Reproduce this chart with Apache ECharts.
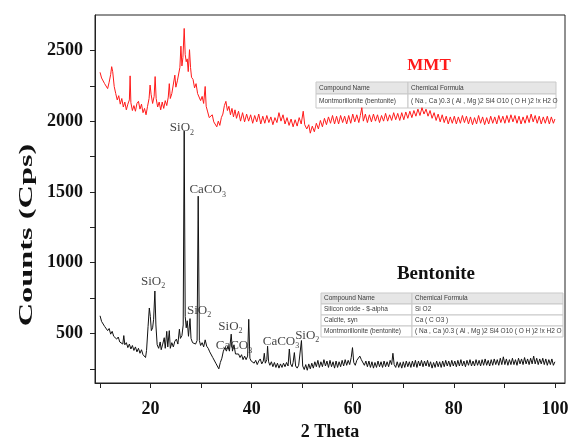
<!DOCTYPE html>
<html>
<head>
<meta charset="utf-8">
<script src="https://cdn.jsdelivr.net/npm/echarts@6/dist/echarts.min.js"></script>
<style>
  html, body { margin: 0; padding: 0; background: #fff; }
  #chart { width: 570px; height: 437px; }
</style>
</head>
<body>
<div id="chart"></div>
<script>
// MMT pattern, [2 theta, counts]
const mmtData = [
  [10,2345],[10.3,2305],[10.6,2295],[10.9,2265],[11.2,2255],[11.5,2230],[11.8,2275],[12.1,2330],[12.3,2385],[12.5,2350],
  [12.8,2245],[13.1,2195],[13.4,2150],[13.7,2180],[14,2120],[14.3,2160],[14.6,2100],[14.9,2135],[15.2,2080],[15.5,2120],
  [15.8,2150],[15.95,2320],[16.1,2130],[16.4,2075],[16.7,2110],[17,2070],[17.3,2125],[17.6,2140],[17.9,2085],[18.2,2120],
  [18.5,2060],[18.8,2090],[19.1,2045],[19.4,2105],[19.7,2160],[19.9,2255],[20.1,2190],[20.4,2125],[20.7,2175],[20.9,2315],
  [21.1,2160],[21.4,2100],[21.7,2135],[22,2080],[22.3,2135],[22.6,2090],[22.9,2145],[23.2,2110],[23.5,2170],[23.7,2265],
  [23.9,2160],[24.2,2195],[24.5,2205],[24.8,2325],[25,2240],[25.3,2285],[25.6,2295],[25.8,2380],[26,2530],[26.2,2390],
  [26.4,2450],[26.65,2655],[26.85,2470],[27.05,2420],[27.25,2440],[27.45,2350],[27.7,2505],[27.9,2380],[28.1,2310],[28.4,2295],
  [28.7,2235],[29,2265],[29.3,2195],[29.6,2185],[29.9,2145],[30.2,2175],[30.5,2125],[30.8,2245],[31,2105],[31.3,2065],
  [31.6,2025],[31.9,2015],[32.2,2045],[32.5,1995],[32.8,1990],[33.1,1960],[33.4,2000],[33.7,1970],[34,2025],[34.3,2050],
  [34.6,2110],[34.9,2140],[35.2,2075],[35.5,2105],[35.8,2045],[36.1,2090],[36.4,2030],[36.7,2080],[37,2020],[37.4,2070],
  [37.8,2000],[38.2,2060],[38.6,1995],[39,2050],[39.4,2000],[39.8,2045],[40.2,1985],[40.6,2040],[41,1995],[41.4,2050],
  [41.8,1980],[42.2,2035],[42.6,1985],[43,2040],[43.4,1990],[43.8,2030],[44.2,1975],[44.6,2025],[45,1990],[45.4,2060],
  [45.8,2000],[46.2,2045],[46.6,1980],[47,2025],[47.4,1970],[47.8,2015],[48.2,1960],[48.6,2010],[49,1965],[49.4,2025],
  [49.8,1980],[50.2,2070],[50.5,1975],[50.9,1945],[51.3,1975],[51.6,1915],[52,1965],[52.4,1925],[52.8,1985],[53.2,1945],
  [53.6,2005],[54,1960],[54.4,2020],[54.8,1975],[55.2,2030],[55.6,1985],[56,2040],[56.4,1980],[56.8,2035],[57.2,1980],
  [57.6,2040],[58,1990],[58.4,2035],[58.8,1980],[59.2,2040],[59.6,1985],[60,2050],[60.4,1995],[60.8,2045],[61.2,1990],
  [61.5,2040],[61.8,2095],[62.1,2000],[62.5,2050],[62.9,1990],[63.3,2045],[63.7,1995],[64.1,2050],[64.5,2000],[64.9,2045],
  [65.3,1990],[65.7,2040],[66.1,2000],[66.5,2055],[66.9,2000],[67.3,2045],[67.7,2005],[68.1,2060],[68.5,2010],[68.9,2055],
  [69.3,2005],[69.7,2060],[70.1,2010],[70.5,2065],[70.9,2020],[71.3,2070],[71.7,2025],[72.1,2075],[72.5,2035],[72.9,2085],
  [73.3,2040],[73.7,2095],[74.1,2050],[74.5,2085],[74.9,2035],[75.3,2075],[75.7,2020],[76.1,2060],[76.5,2005],[76.9,2050],
  [77.3,1995],[77.7,2045],[78.1,1990],[78.5,2035],[78.9,1980],[79.3,2030],[79.7,1985],[80.1,2035],[80.5,1980],[80.9,2030],
  [81.3,1985],[81.7,2040],[82.1,1990],[82.5,2035],[82.9,1980],[83.3,2030],[83.7,1975],[84.1,2025],[84.5,1980],[84.9,2040],
  [85.3,1985],[85.7,2030],[86.1,1975],[86.5,2025],[86.9,1980],[87.3,2035],[87.7,1985],[88.1,2030],[88.5,1980],[88.9,2040],
  [89.3,1990],[89.7,2035],[90.1,1985],[90.5,2040],[90.9,1990],[91.3,2045],[91.7,1995],[92.1,2040],[92.5,1985],[92.9,2035],
  [93.3,1980],[93.7,2030],[94.1,1985],[94.5,2040],[94.9,1990],[95.3,2050],[95.7,1995],[96.1,2040],[96.5,1985],[96.9,2035],
  [97.3,1980],[97.7,2030],[98.1,1985],[98.5,2035],[98.9,1980],[99.3,2030],[99.7,1985],[100,2015]
]

// Bentonite pattern, [2 theta, counts]
const bentoniteData = [
  [10,625],[10.3,585],[10.6,590],[10.9,550],[11.2,560],[11.5,520],[11.8,535],[12.1,495],[12.4,515],[12.7,480],
  [13,490],[13.3,460],[13.6,475],[13.9,440],[14.2,450],[14.5,425],[14.7,485],[14.9,420],[15.2,435],[15.5,400],
  [15.8,425],[16.1,390],[16.4,415],[16.7,380],[17,405],[17.3,370],[17.6,395],[17.9,360],[18.2,385],[18.5,350],
  [18.8,360],[19,330],[19.2,380],[19.5,550],[19.75,680],[19.95,620],[20.15,520],[20.4,540],[20.6,600],[20.85,800],
  [21.05,560],[21.3,420],[21.6,395],[21.9,440],[22.1,385],[22.4,425],[22.7,470],[22.9,395],[23.2,515],[23.4,405],
  [23.7,520],[23.9,395],[24.2,435],[24.5,405],[24.8,445],[25.1,460],[25.4,425],[25.7,530],[25.9,465],[26.2,485],
  [26.45,560],[26.65,1930],[26.85,620],[27.05,540],[27.25,590],[27.5,480],[27.8,605],[28,465],[28.3,435],[28.6,430],
  [28.9,425],[29.2,450],[29.42,1470],[29.65,450],[29.9,415],[30.2,435],[30.5,405],[30.8,455],[31.1,410],[31.4,395],
  [31.7,370],[32,365],[32.3,330],[32.6,325],[32.9,290],[33.2,285],[33.5,250],[33.8,295],[34.1,325],[34.4,375],
  [34.7,400],[35,375],[35.3,410],[35.6,375],[35.95,495],[36.2,375],[36.5,420],[36.8,355],[37.1,355],[37.4,355],
  [37.7,330],[38,350],[38.3,315],[38.6,340],[38.9,315],[39.2,340],[39.42,600],[39.65,325],[39.9,305],[40.2,315],
  [40.5,290],[40.8,310],[41.1,280],[41.4,305],[41.7,320],[42,285],[42.3,305],[42.5,360],[42.7,290],[43,315],
  [43.15,410],[43.35,300],[43.6,275],[43.9,300],[44.2,265],[44.5,295],[44.8,260],[45.1,290],[45.4,255],[45.7,285],
  [46,260],[46.3,290],[46.6,265],[46.9,295],[47.2,270],[47.45,390],[47.7,285],[48,265],[48.2,295],[48.45,365],
  [48.7,270],[49,255],[49.3,275],[49.6,285],[49.85,450],[50.1,270],[50.4,245],[50.7,280],[51,240],[51.3,285],
  [51.6,250],[51.9,290],[52.2,255],[52.5,300],[52.8,265],[53.1,310],[53.4,260],[53.7,300],[54,265],[54.3,315],
  [54.6,270],[54.9,305],[55.2,260],[55.5,310],[55.8,265],[56.1,300],[56.4,255],[56.7,305],[57,260],[57.3,300],
  [57.6,265],[57.9,310],[58.2,270],[58.5,315],[58.8,275],[59.1,310],[59.4,280],[59.7,330],[59.95,400],[60.2,295],
  [60.5,275],[60.8,310],[61.1,320],[61.4,340],[61.7,315],[62,305],[62.3,275],[62.6,305],[62.9,265],[63.2,305],
  [63.5,260],[63.8,300],[64.1,255],[64.4,295],[64.7,260],[65,305],[65.3,265],[65.6,300],[65.9,260],[66.2,305],
  [66.5,265],[66.8,300],[67.1,265],[67.4,310],[67.7,280],[67.95,360],[68.2,280],[68.5,260],[68.8,300],[69.1,260],
  [69.4,295],[69.7,255],[70,300],[70.3,260],[70.6,305],[70.9,265],[71.2,300],[71.5,260],[71.8,305],[72.1,265],
  [72.4,310],[72.7,260],[73,305],[73.3,270],[73.6,310],[73.9,265],[74.2,305],[74.5,270],[74.8,310],[75.1,265],
  [75.4,300],[75.7,255],[76,295],[76.3,260],[76.6,305],[76.9,265],[77.2,300],[77.5,260],[77.8,305],[78.1,265],
  [78.4,310],[78.7,270],[79,305],[79.3,265],[79.6,310],[79.9,270],[80.2,305],[80.5,265],[80.8,310],[81.1,270],
  [81.4,315],[81.7,270],[82,305],[82.3,265],[82.6,310],[82.9,275],[83.2,315],[83.5,270],[83.8,305],[84.1,270],
  [84.4,315],[84.7,275],[85,310],[85.3,270],[85.6,315],[85.9,275],[86.2,320],[86.5,275],[86.8,310],[87.1,270],
  [87.4,315],[87.7,275],[88,320],[88.3,280],[88.6,315],[88.9,275],[89.2,325],[89.5,280],[89.8,335],[90.1,280],
  [90.4,320],[90.7,275],[91,315],[91.3,280],[91.6,325],[91.9,280],[92.2,315],[92.5,275],[92.8,325],[93.1,285],
  [93.4,320],[93.7,280],[94,330],[94.3,285],[94.6,320],[94.9,280],[95.2,325],[95.5,285],[95.8,340],[96.1,285],
  [96.4,325],[96.7,280],[97,320],[97.3,285],[97.6,325],[97.9,280],[98.2,320],[98.5,275],[98.8,315],[99.1,280],
  [99.4,320],[99.7,275],[100,300]
]

// peak annotations (label centre in data coordinates)
const peakLabels = ['SiO{s|2}', 'CaCO{s|3}', 'SiO{s|2}', 'SiO{s|2}', 'SiO{s|2}', 'CaCO{s|3}', 'CaCO{s|3}', 'SiO{s|2}']
const peakTheta = [26.2, 31.3, 20.5, 29.6, 35.8, 36.5, 45.8, 51.0]
const peakCounts = [1955, 1515, 870, 665, 550, 412, 446, 488]

// axis ticks
const xTicks = [10, 20, 30, 40, 50, 60, 70, 80, 90, 100]
const xLabels = [20, 40, 60, 80, 100]
const yTicks = [250, 500, 750, 1000, 1250, 1500, 1750, 2000, 2250, 2500]
const yLabels = [500, 1000, 1500, 2000, 2500]

// phase tables
const mmtTable = [
  ['Compound Name', 'Chemical Formula'],
  ['Montmorillonite (bentonite)', '( Na , Ca )0.3 ( Al , Mg )2 Si4 O10 ( O H )2 !x H2 O']
]
const bentoniteTable = [
  ['Compound Name', 'Chemical Formula'],
  ['Silicon oxide - $-alpha', 'Si O2'],
  ['Calcite, syn', 'Ca ( C O3 )'],
  ['Montmorillonite (bentonite)', '( Na , Ca )0.3 ( Al , Mg )2 Si4 O10 ( O H )2 !x H2 O']
]

const serif = '"Liberation Serif", "Times New Roman", serif'

function buildTable(rows, x, y, colW, headH, rowH) {
  const els = []
  let top = y
  rows.forEach((row, i) => {
    const h = i === 0 ? headH : rowH
    let left = x
    row.forEach((cell, j) => {
      els.push({
        type: 'rect',
        shape: { x: left, y: top, width: colW[j], height: h },
        style: { fill: i === 0 ? '#e6e6e6' : '#ffffff', stroke: '#c9c9c9', lineWidth: 1 },
        silent: true
      })
      els.push({
        type: 'text',
        x: left + 3,
        y: top + h / 2,
        style: {
          text: cell,
          fontSize: 6.5,
          fontFamily: '"Liberation Sans", Arial, sans-serif',
          fill: '#3a3a3a',
          verticalAlign: 'middle'
        },
        silent: true
      })
      left += colW[j]
    })
    top += h
  })
  return els
}

const chart = echarts.init(document.getElementById('chart'))

const option = {
  animation: false,
  grid: {
    left: 95, right: 5, top: 15, bottom: 54,
    containLabel: false,
    outerBoundsMode: 'none',
    show: true, borderColor: '#222', borderWidth: 1
  },
  xAxis: {
    type: 'value',
    min: 9,
    max: 102,
    name: '2 Theta',
    nameLocation: 'middle',
    nameGap: 40,
    nameTextStyle: { fontFamily: serif, fontWeight: 'bold', fontSize: 18, color: '#111' },
    axisLine: { lineStyle: { color: '#222', width: 1 } },
    axisTick: { inside: false, customValues: xTicks, length: 5, lineStyle: { color: '#222' } },
    axisLabel: {
      customValues: xLabels,
      formatter: v => String(v),
      fontFamily: serif, fontWeight: 'bold', fontSize: 18, color: '#111', margin: 17
    },
    splitLine: { show: false }
  },
  yAxis: {
    type: 'value',
    min: 150,
    max: 2750,
    axisLine: { show: true, lineStyle: { color: '#222', width: 1 } },
    axisTick: { show: true, inside: false, customValues: yTicks, length: 5, lineStyle: { color: '#222' } },
    axisLabel: {
      customValues: yLabels,
      formatter: v => String(v),
      fontFamily: serif, fontWeight: 'bold', fontSize: 18, color: '#111', margin: 12
    },
    splitLine: { show: false }
  },
  series: [
    {
      name: 'MMT',
      type: 'line',
      data: mmtData,
      showSymbol: false,
      lineStyle: { color: '#ff1a1a', width: 1 },
      silent: true
    },
    {
      name: 'Bentonite',
      type: 'line',
      data: bentoniteData,
      showSymbol: false,
      lineStyle: { color: '#111', width: 1 },
      silent: true
    },
    {
      name: 'peaks',
      type: 'scatter',
      symbolSize: 0,
      silent: true,
      data: peakTheta.map((t, i) => [t, peakCounts[i]]),
      label: {
        show: true,
        position: 'inside',
        formatter: p => peakLabels[p.dataIndex],
        fontFamily: serif,
        fontSize: 13,
        color: '#111',
        lineHeight: 18,
        rich: {
          s: { fontFamily: serif, fontSize: 8, lineHeight: 8, verticalAlign: 'bottom', color: '#111' }
        }
      }
    }
  ],
  graphic: [
    {
      // y axis title, stretched along its length like the original
      type: 'text', x: 27, y: 235, rotation: Math.PI / 2, scaleX: 1.8, silent: true,
      style: { text: 'Counts (Cps)', fontFamily: serif, fontWeight: 'bold', fontSize: 18, fill: '#111', align: 'center', verticalAlign: 'middle' }
    },
    {
      type: 'text', x: 429, y: 66, silent: true,
      style: { text: 'MMT', fontFamily: serif, fontWeight: 'bold', fontSize: 17, fill: '#ff1a1a', align: 'center', verticalAlign: 'middle' }
    },
    {
      type: 'text', x: 436, y: 274, silent: true,
      style: { text: 'Bentonite', fontFamily: serif, fontWeight: 'bold', fontSize: 19, fill: '#111', align: 'center', verticalAlign: 'middle' }
    },
    ...buildTable(mmtTable, 316, 82, [92, 148], 12, 14),
    ...buildTable(bentoniteTable, 321, 293, [91, 151], 11, 11)
  ]
}

chart.setOption(option)
</script>
</body>
</html>
